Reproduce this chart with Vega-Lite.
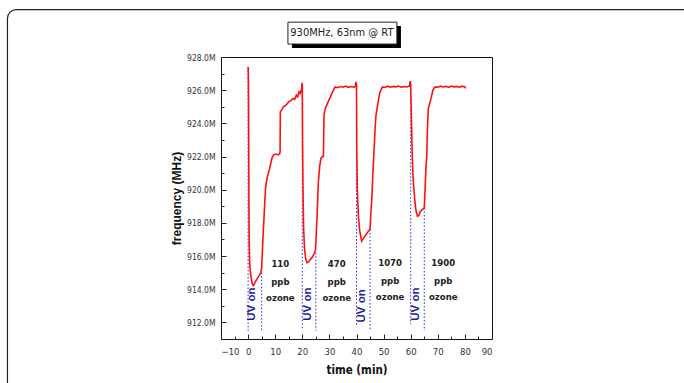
{
  "$schema": "https://vega.github.io/schema/vega-lite/v6.json",
  "autosize": "none",
  "width": 271,
  "height": 282,
  "padding": {"left": 221, "top": 57, "right": 192, "bottom": 44},
  "background": "white",
  "config": {
    "view": {"stroke": "#111", "strokeWidth": 1},
    "font": "DejaVu Sans Condensed, Liberation Sans Narrow, Liberation Sans, Arial"
  },
  "datasets": {
    "frame": [{"x1": -88.8, "x2": 174, "y1": 930.86, "y2": 906}],
    "titlebox": [{"x1": 14.7, "x2": 54.9, "y1": 930.1, "y2": 928.78, "sx1": 16.2, "sx2": 56.4, "sy1": 929.87, "sy2": 928.54, "tx": 34.6, "ty": 929.45, "label": "930MHz, 63nm @ RT"}],
    "freq": [
      {"t": 0, "f": 927.4}, {"t": 0.05, "f": 927.3}, {"t": 0.1, "f": 926.8}, {"t": 0.2, "f": 924.0},
      {"t": 0.3, "f": 919.5}, {"t": 0.4, "f": 916.8}, {"t": 0.6, "f": 915.5}, {"t": 1.0, "f": 914.8},
      {"t": 1.5, "f": 914.35}, {"t": 1.9, "f": 914.22}, {"t": 2.4, "f": 914.35}, {"t": 3.0, "f": 914.55},
      {"t": 3.6, "f": 914.7}, {"t": 4.2, "f": 914.85}, {"t": 4.7, "f": 915.0}, {"t": 5.0, "f": 915.3},
      {"t": 5.3, "f": 916.4}, {"t": 5.6, "f": 917.5}, {"t": 5.9, "f": 918.4}, {"t": 6.2, "f": 919.4},
      {"t": 6.5, "f": 920.2}, {"t": 7.0, "f": 920.7}, {"t": 7.5, "f": 921.0}, {"t": 8.0, "f": 921.3},
      {"t": 8.5, "f": 921.7}, {"t": 9.0, "f": 922.0}, {"t": 9.5, "f": 922.1}, {"t": 10.2, "f": 922.15},
      {"t": 11.0, "f": 922.1}, {"t": 11.6, "f": 922.15}, {"t": 11.8, "f": 922.3}, {"t": 11.9, "f": 924.7},
      {"t": 12.3, "f": 924.8}, {"t": 13.0, "f": 925.0}, {"t": 14.0, "f": 925.1}, {"t": 15.0, "f": 925.3},
      {"t": 16.0, "f": 925.4}, {"t": 16.6, "f": 925.5}, {"t": 17.2, "f": 925.45}, {"t": 17.8, "f": 925.7},
      {"t": 18.3, "f": 925.6}, {"t": 18.8, "f": 925.9}, {"t": 19.2, "f": 925.8}, {"t": 19.6, "f": 926.0},
      {"t": 19.8, "f": 926.1}, {"t": 19.9, "f": 926.45}, {"t": 20.0, "f": 926.3}, {"t": 20.1, "f": 922.8},
      {"t": 20.3, "f": 919.5}, {"t": 20.5, "f": 917.6}, {"t": 20.8, "f": 916.5}, {"t": 21.2, "f": 915.9},
      {"t": 21.7, "f": 915.6}, {"t": 22.3, "f": 915.65}, {"t": 23.0, "f": 915.8}, {"t": 23.8, "f": 915.95},
      {"t": 24.5, "f": 916.2}, {"t": 24.9, "f": 916.4}, {"t": 25.2, "f": 917.5}, {"t": 25.5, "f": 918.6},
      {"t": 25.9, "f": 920.4}, {"t": 26.4, "f": 921.4}, {"t": 26.9, "f": 921.9}, {"t": 27.4, "f": 922.0},
      {"t": 27.8, "f": 922.0}, {"t": 28.0, "f": 924.5}, {"t": 28.5, "f": 924.9}, {"t": 29.0, "f": 925.1},
      {"t": 29.8, "f": 925.4}, {"t": 30.4, "f": 925.6}, {"t": 30.9, "f": 925.8}, {"t": 31.5, "f": 926.0},
      {"t": 32.1, "f": 926.2}, {"t": 33.0, "f": 926.15}, {"t": 34.0, "f": 926.22}, {"t": 35.0, "f": 926.18},
      {"t": 36.0, "f": 926.25}, {"t": 37.0, "f": 926.17}, {"t": 38.0, "f": 926.22}, {"t": 39.0, "f": 926.18},
      {"t": 39.6, "f": 926.23}, {"t": 39.8, "f": 926.5}, {"t": 40.0, "f": 926.3}, {"t": 40.1, "f": 922.5},
      {"t": 40.3, "f": 920.0}, {"t": 40.7, "f": 918.4}, {"t": 41.2, "f": 917.5}, {"t": 41.9, "f": 916.9},
      {"t": 42.5, "f": 917.05}, {"t": 43.3, "f": 917.25}, {"t": 44.2, "f": 917.45}, {"t": 45.0, "f": 917.6},
      {"t": 45.3, "f": 918.6}, {"t": 45.7, "f": 919.6}, {"t": 46.0, "f": 920.8}, {"t": 46.3, "f": 921.8},
      {"t": 46.6, "f": 922.8}, {"t": 46.9, "f": 923.8}, {"t": 47.2, "f": 924.5}, {"t": 47.6, "f": 924.9},
      {"t": 48.2, "f": 925.5}, {"t": 48.7, "f": 925.9}, {"t": 49.6, "f": 926.2}, {"t": 50.5, "f": 926.16},
      {"t": 51.5, "f": 926.24}, {"t": 52.5, "f": 926.18}, {"t": 53.5, "f": 926.23}, {"t": 54.5, "f": 926.2},
      {"t": 55.5, "f": 926.25}, {"t": 56.5, "f": 926.18}, {"t": 57.5, "f": 926.22}, {"t": 58.5, "f": 926.19},
      {"t": 59.5, "f": 926.24}, {"t": 59.8, "f": 926.55}, {"t": 60.0, "f": 926.3}, {"t": 60.2, "f": 924.8},
      {"t": 60.5, "f": 922.5}, {"t": 60.8, "f": 921.0}, {"t": 61.1, "f": 920.2}, {"t": 61.6, "f": 919.2},
      {"t": 62.0, "f": 918.7}, {"t": 62.5, "f": 918.4}, {"t": 63.0, "f": 918.45}, {"t": 63.6, "f": 918.7},
      {"t": 64.3, "f": 918.8}, {"t": 65.0, "f": 918.9}, {"t": 65.3, "f": 920.0}, {"t": 65.6, "f": 921.2},
      {"t": 65.9, "f": 922.0}, {"t": 66.2, "f": 923.8}, {"t": 66.5, "f": 924.9}, {"t": 67.0, "f": 925.2},
      {"t": 67.5, "f": 925.5}, {"t": 68.2, "f": 926.0}, {"t": 69.0, "f": 926.2}, {"t": 70.0, "f": 926.18},
      {"t": 71.0, "f": 926.24}, {"t": 72.0, "f": 926.19}, {"t": 73.0, "f": 926.23}, {"t": 74.0, "f": 926.17},
      {"t": 75.0, "f": 926.25}, {"t": 76.0, "f": 926.2}, {"t": 77.0, "f": 926.23}, {"t": 78.0, "f": 926.18},
      {"t": 79.0, "f": 926.24}, {"t": 80.0, "f": 926.2}, {"t": 80.3, "f": 926.1}
    ],
    "markers": [
      {"t": 0, "top": 927.4, "bottom": 911.5}, {"t": 5, "top": 915.0, "bottom": 911.5},
      {"t": 20, "top": 926.3, "bottom": 911.6}, {"t": 25, "top": 916.2, "bottom": 911.5},
      {"t": 40, "top": 926.3, "bottom": 911.8}, {"t": 45, "top": 917.6, "bottom": 911.5},
      {"t": 60, "top": 926.3, "bottom": 911.9}, {"t": 65, "top": 918.9, "bottom": 911.5}
    ],
    "uv": [
      {"t": 1.4, "f": 913.1, "label": "UV on"}, {"t": 22.0, "f": 913.1, "label": "UV on"},
      {"t": 41.9, "f": 913.0, "label": "UV on"}, {"t": 61.85, "f": 913.1, "label": "UV on"}
    ],
    "ozone": [
      {"t": 11.9, "f": 915.52, "label": "110"}, {"t": 11.9, "f": 914.45, "label": "ppb"}, {"t": 11.9, "f": 913.49, "label": "ozone"},
      {"t": 32.7, "f": 915.52, "label": "470"}, {"t": 32.7, "f": 914.45, "label": "ppb"}, {"t": 32.7, "f": 913.49, "label": "ozone"},
      {"t": 52.4, "f": 915.6, "label": "1070"}, {"t": 52.4, "f": 914.5, "label": "ppb"}, {"t": 52.4, "f": 913.55, "label": "ozone"},
      {"t": 72.0, "f": 915.6, "label": "1900"}, {"t": 72.0, "f": 914.5, "label": "ppb"}, {"t": 72.0, "f": 913.55, "label": "ozone"}
    ]
  },
  "resolve": {"axis": {"x": "independent", "y": "independent"}},
  "layer": [
    {
      "data": {"name": "frame"},
      "mark": {"type": "rect", "fill": null, "stroke": "#222", "strokeWidth": 1.2, "cornerRadius": 9, "clip": false},
      "encoding": {
        "x": {"field": "x1", "type": "quantitative", "scale": {"domain": [-10, 90], "nice": false, "zero": false}, "axis": null},
        "x2": {"field": "x2"},
        "y": {"field": "y1", "type": "quantitative", "scale": {"domain": [911, 928], "nice": false, "zero": false}, "axis": null},
        "y2": {"field": "y2"}
      }
    },
    {
      "data": {"name": "titlebox"},
      "mark": {"type": "rect", "fill": "#000", "clip": false},
      "encoding": {
        "x": {"field": "sx1", "type": "quantitative", "axis": null},
        "x2": {"field": "sx2"},
        "y": {"field": "sy1", "type": "quantitative", "axis": null},
        "y2": {"field": "sy2"}
      }
    },
    {
      "data": {"name": "titlebox"},
      "mark": {"type": "rect", "fill": "white", "stroke": "#222", "strokeWidth": 1, "clip": false},
      "encoding": {
        "x": {"field": "x1", "type": "quantitative", "axis": null},
        "x2": {"field": "x2"},
        "y": {"field": "y1", "type": "quantitative", "axis": null},
        "y2": {"field": "y2"}
      }
    },
    {
      "data": {"name": "titlebox"},
      "mark": {"type": "text", "fontSize": 11, "color": "#222", "align": "center", "baseline": "middle", "clip": false},
      "encoding": {
        "x": {"field": "tx", "type": "quantitative", "axis": null},
        "y": {"field": "ty", "type": "quantitative", "axis": null},
        "text": {"field": "label"}
      }
    },
    {
      "data": {"name": "markers"},
      "mark": {"type": "rule", "color": "#2a2ad0", "strokeWidth": 1, "strokeDash": [1.5, 2]},
      "encoding": {
        "x": {"field": "t", "type": "quantitative", "axis": {"orient": "bottom", "values": [-5, 5, 15, 25, 35, 45, 55, 65, 75, 85], "labels": false, "domain": false, "grid": false, "title": null, "tickSize": -3, "tickColor": "#222"}},
        "y": {"field": "top", "type": "quantitative", "axis": {"orient": "left", "values": [911, 913, 915, 917, 919, 921, 923, 925, 927], "labels": false, "domain": false, "grid": false, "title": null, "tickSize": -3, "tickColor": "#222"}},
        "y2": {"field": "bottom"}
      }
    },
    {
      "data": {"name": "freq"},
      "mark": {"type": "line", "color": "#ff1010", "strokeWidth": 1.6},
      "encoding": {
        "x": {
          "field": "t", "type": "quantitative",
          "axis": {"orient": "bottom", "values": [-10, 0, 10, 20, 30, 40, 50, 60, 70, 80, 90], "grid": false, "domain": false,
                   "tickSize": -5, "tickColor": "#222", "labelFontSize": 9.5, "labelColor": "#333", "labelPadding": 12,
                   "title": "time (min)", "titleFontSize": 11.5, "titleFontWeight": "bold", "titleColor": "#111", "titlePadding": 9}
        },
        "y": {
          "field": "f", "type": "quantitative",
          "axis": {"orient": "left", "values": [912, 914, 916, 918, 920, 922, 924, 926, 928], "grid": false, "domain": false,
                   "tickSize": -5, "tickColor": "#222", "labelFontSize": 8.5, "labelColor": "#333", "labelPadding": 11,
                   "labelExpr": "format(datum.value, '.1f') + 'M'",
                   "title": "frequency (MHz)", "titleFont": "Liberation Sans, Arial", "titleFontSize": 12, "titleFontWeight": "bold", "titleColor": "#111", "titlePadding": 3}
        }
      }
    },
    {
      "data": {"name": "uv"},
      "mark": {"type": "text", "angle": 270, "font": "Liberation Sans, Arial", "fontSize": 11.5, "fontWeight": "bold", "color": "#1c1ca0", "align": "center", "baseline": "middle"},
      "encoding": {
        "x": {"field": "t", "type": "quantitative", "axis": null},
        "y": {"field": "f", "type": "quantitative", "axis": null},
        "text": {"field": "label"}
      }
    },
    {
      "data": {"name": "ozone"},
      "mark": {"type": "text", "fontSize": 9.5, "fontWeight": "bold", "color": "#222", "align": "center", "baseline": "middle"},
      "encoding": {
        "x": {"field": "t", "type": "quantitative", "axis": null},
        "y": {"field": "f", "type": "quantitative", "axis": null},
        "text": {"field": "label"}
      }
    }
  ]
}
